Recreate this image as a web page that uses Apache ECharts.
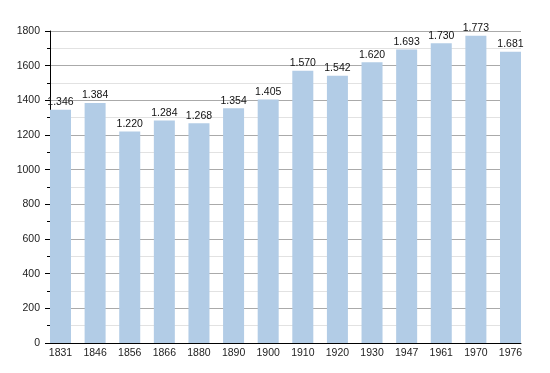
<!DOCTYPE html>
<html><head><meta charset="utf-8">
<script src="https://cdn.jsdelivr.net/npm/echarts@6/dist/echarts.min.js"></script>
<style>html,body{margin:0;padding:0;background:#fff}#c{width:550px;height:373px}</style>
</head><body><div id="c"></div>
<script>
const categories = ['1831','1846','1856','1866','1880','1890','1900','1910','1920','1930','1947','1961','1970','1976'];
const population = [1346,1384,1220,1284,1268,1354,1405,1570,1542,1620,1693,1730,1773,1681];
const yMin = 0, yMax = 1800, yStep = 200;

function fmt(v){ const s = String(v); return s.length > 3 ? s.slice(0, s.length-3) + '.' + s.slice(-3) : s; }

const font = 'Liberation Sans, Arial, sans-serif';
const chart = echarts.init(document.getElementById('c'), null, {renderer:'canvas'});
chart.setOption({
  animation:false,
  grid:[
    {left:50, right:29, top:31, bottom:30},
    {left:60.5, right:39.5, top:31, bottom:30}
  ],
  xAxis:[
    {gridIndex:0, type:'category', data:categories, boundaryGap:true,
     axisLine:{show:true, lineStyle:{color:'#000', width:1}}, axisTick:{show:false}, axisLabel:{show:false}, splitLine:{show:false}},
    {gridIndex:1, type:'category', data:categories, boundaryGap:false,
     axisLine:{show:false}, axisTick:{show:false},
     axisLabel:{show:true, interval:0, margin:5, color:'#222', fontSize:10.5, fontFamily:font}, splitLine:{show:false}}
  ],
  yAxis:[
    {gridIndex:0, type:'value', min:yMin, max:yMax, interval:yStep,
     axisLine:{show:true, lineStyle:{color:'#000', width:1}},
     axisTick:{show:true, length:5, lineStyle:{color:'#000'}},
     minorTick:{show:true, splitNumber:2, length:3, lineStyle:{color:'#000'}},
     axisLabel:{margin:10, color:'#222', fontSize:10.5, fontFamily:font, formatter:v=>String(v)},
     splitLine:{show:true, lineStyle:{color:'#aaa', width:1}},
     minorSplitLine:{show:true, lineStyle:{color:'#e2e2e2', width:1}}},
    {gridIndex:1, type:'value', min:yMin, max:yMax, interval:yStep, show:false, splitLine:{show:false}}
  ],
  series:[{
    type:'bar', xAxisIndex:1, yAxisIndex:1, data:population, barWidth:21,
    itemStyle:{color:'#b2cce6'},
    label:{show:true, position:'top', distance:2, color:'#111', fontSize:10.5, fontFamily:font, formatter:p=>fmt(p.value)}
  }]
});
</script></body></html>
